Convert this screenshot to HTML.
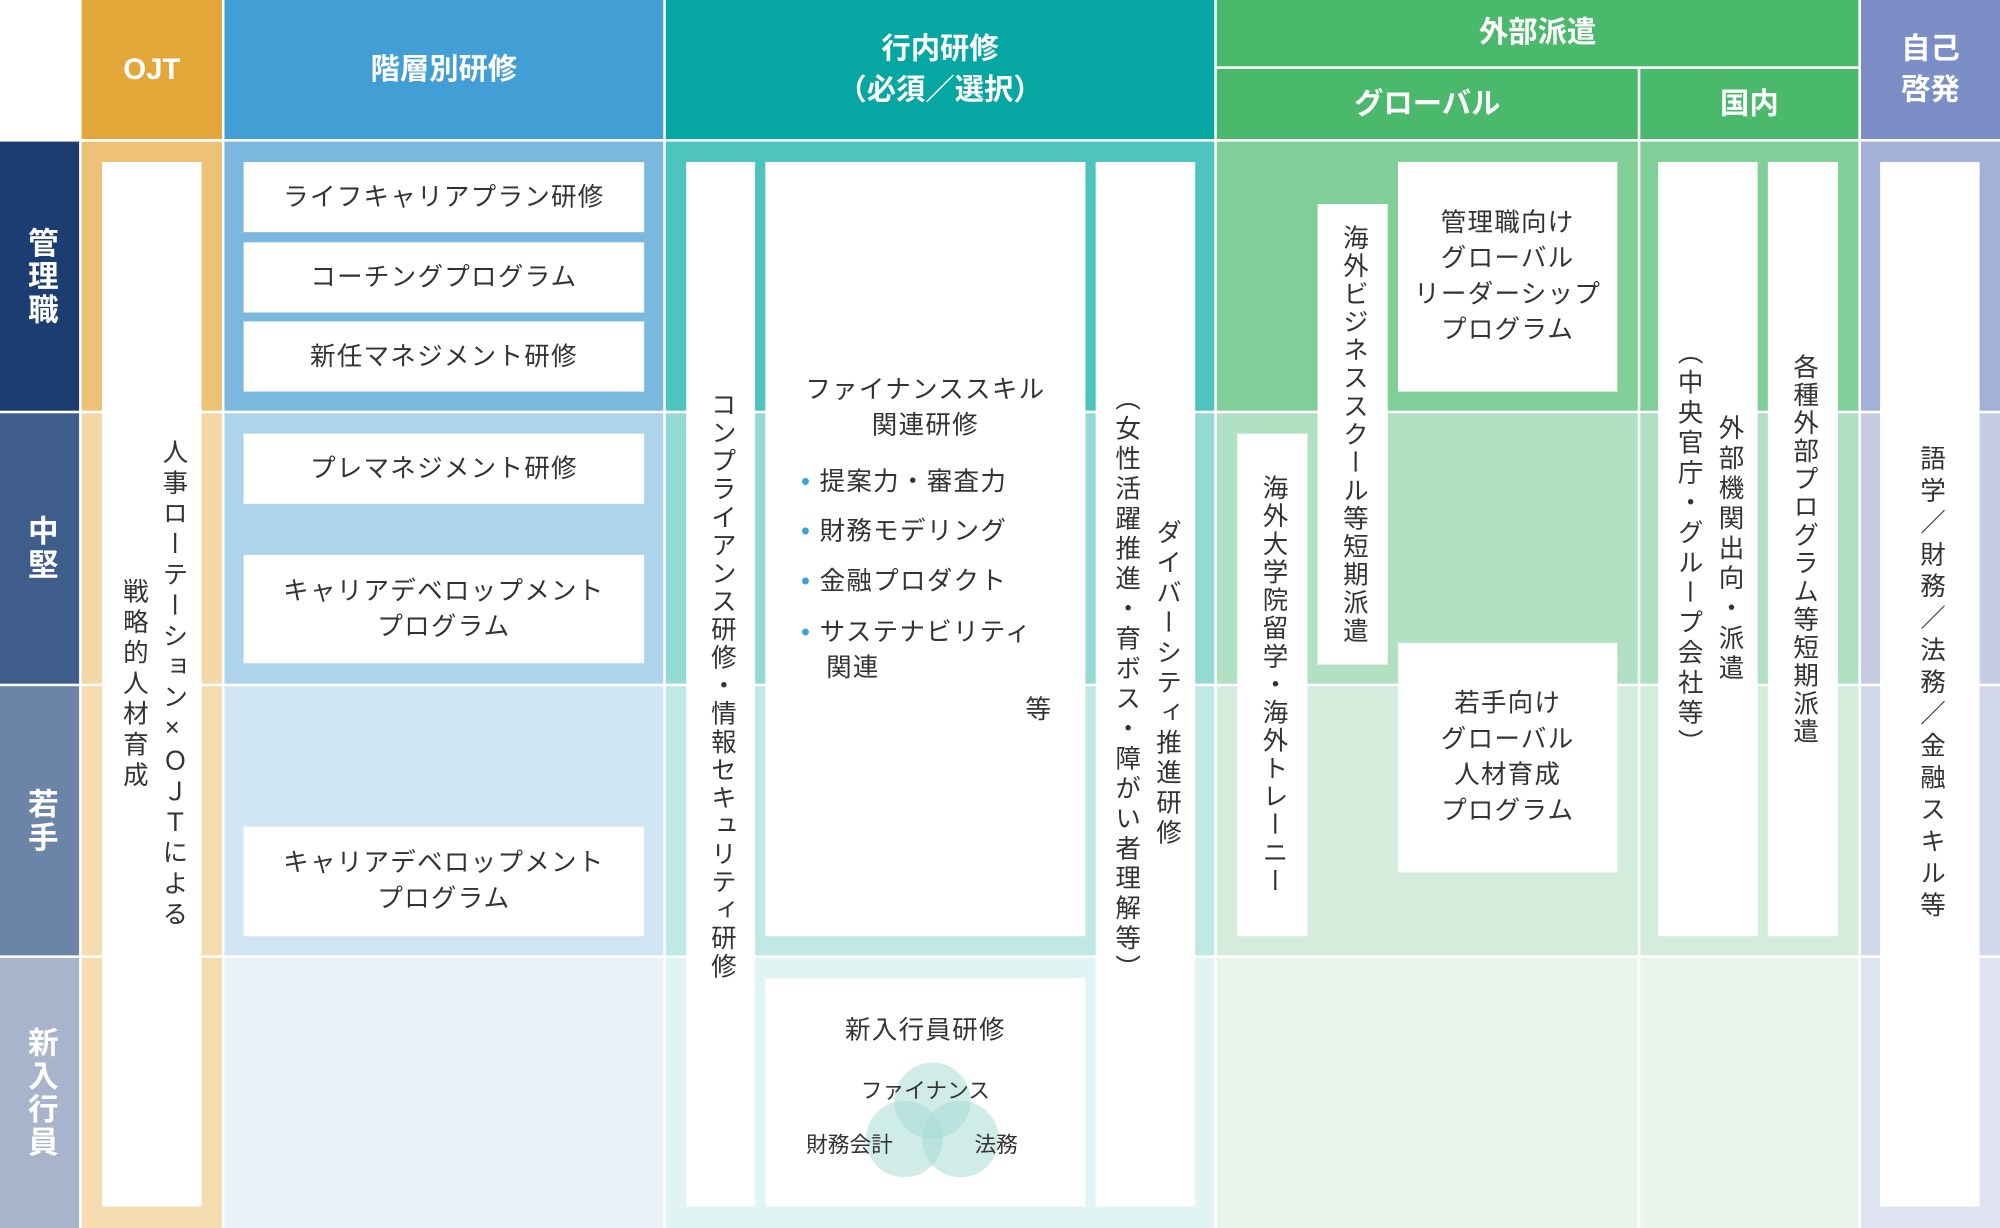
<!DOCTYPE html>
<html><head><meta charset="utf-8"><style>
html,body{margin:0;padding:0;background:#fff;}
#wrap{position:relative;width:1568px;height:963px;transform:scale(1.27551);transform-origin:0 0;font-family:"Liberation Sans","Noto Sans CJK JP",sans-serif;color:#333;}
.a{position:absolute;box-sizing:border-box;}
.h{color:#fff;font-weight:bold;font-size:23px;display:flex;align-items:center;justify-content:center;text-align:center;line-height:1.35;}
.w{background:#fff;display:flex;align-items:center;justify-content:center;text-align:center;font-size:20px;line-height:1.4;letter-spacing:1px;}
.v{writing-mode:vertical-rl;text-orientation:upright;font-size:20px;letter-spacing:2px;line-height:1.6;}
.rl{color:#fff;font-weight:bold;font-size:24px;writing-mode:vertical-rl;text-orientation:upright;display:flex;align-items:center;justify-content:center;letter-spacing:2px;}
</style></head><body><div id="wrap">
<!-- headers -->
<div class="a h" style="left:64px;top:0;width:110px;height:109px;background:#e3a638">OJT</div>
<div class="a h" style="left:176px;top:0;width:344px;height:109px;background:#429fd5">階層別研修</div>
<div class="a h" style="left:522px;top:0;width:430px;height:109px;background:#06a6a2">行内研修<br>（必須／選択）</div>
<div class="a h" style="left:954px;top:0;width:503px;height:52px;background:#4bb96c">外部派遣</div>
<div class="a h" style="left:954px;top:54px;width:330px;height:55px;background:#4bb96c">グローバル</div>
<div class="a h" style="left:1286px;top:54px;width:171px;height:55px;background:#4bb96c">国内</div>
<div class="a h" style="left:1459px;top:0;width:109px;height:109px;background:#7b8fc6">自己<br>啓発</div>
<!-- row labels -->
<div class="a rl" style="left:0;top:111px;width:62px;height:211px;background:#1b3d72">管理職</div>
<div class="a rl" style="left:0;top:324px;width:62px;height:212px;background:#3f5d8a">中堅</div>
<div class="a rl" style="left:0;top:538px;width:62px;height:211px;background:#6d84a9">若手</div>
<div class="a rl" style="left:0;top:751px;width:62px;height:212px;background:#a7b4cc">新入行員</div>
<!-- cell backgrounds -->
<div class="a" style="left:64px;top:111px;width:110px;height:211px;background:#edc277"></div>
<div class="a" style="left:64px;top:324px;width:110px;height:212px;background:#f3d9a8"></div>
<div class="a" style="left:64px;top:538px;width:110px;height:211px;background:#f4dcae"></div>
<div class="a" style="left:64px;top:751px;width:110px;height:212px;background:#f4dcae"></div>
<div class="a" style="left:176px;top:111px;width:344px;height:211px;background:#7ab8de"></div>
<div class="a" style="left:176px;top:324px;width:344px;height:212px;background:#aed4ec"></div>
<div class="a" style="left:176px;top:538px;width:344px;height:211px;background:#d0e6f4"></div>
<div class="a" style="left:176px;top:751px;width:344px;height:212px;background:#e7f2f9"></div>
<div class="a" style="left:522px;top:111px;width:430px;height:211px;background:#4ec4be"></div>
<div class="a" style="left:522px;top:324px;width:430px;height:212px;background:#95d9d5"></div>
<div class="a" style="left:522px;top:538px;width:430px;height:211px;background:#c0e8e5"></div>
<div class="a" style="left:522px;top:751px;width:430px;height:212px;background:#e0f4f3"></div>
<div class="a" style="left:954px;top:111px;width:330px;height:211px;background:#80cf98"></div>
<div class="a" style="left:954px;top:324px;width:330px;height:212px;background:#b2e0c2"></div>
<div class="a" style="left:954px;top:538px;width:330px;height:211px;background:#d4ecdc"></div>
<div class="a" style="left:954px;top:751px;width:330px;height:212px;background:#e9f5ec"></div>
<div class="a" style="left:1286px;top:111px;width:171px;height:211px;background:#80cf98"></div>
<div class="a" style="left:1286px;top:324px;width:171px;height:212px;background:#b2e0c2"></div>
<div class="a" style="left:1286px;top:538px;width:171px;height:211px;background:#d4ecdc"></div>
<div class="a" style="left:1286px;top:751px;width:171px;height:212px;background:#e9f5ec"></div>
<div class="a" style="left:1459px;top:111px;width:109px;height:211px;background:#a3b0d8"></div>
<div class="a" style="left:1459px;top:324px;width:109px;height:212px;background:#c5cce3"></div>
<div class="a" style="left:1459px;top:538px;width:109px;height:211px;background:#d2d8ea"></div>
<div class="a" style="left:1459px;top:751px;width:109px;height:212px;background:#dfe2f0"></div>
<!-- OJT -->
<div class="a w" style="left:80px;top:127px;width:78px;height:819px;"><div class="v" style="text-align:center;height:819px;line-height:1.55;letter-spacing:4px">人事ローテーション×ＯＪＴによる<br>戦略的人材育成</div></div>
<!-- 階層別 -->
<div class="a w" style="left:191px;top:127px;width:314px;height:55px">ライフキャリアプラン研修</div>
<div class="a w" style="left:191px;top:190px;width:314px;height:55px">コーチングプログラム</div>
<div class="a w" style="left:191px;top:252px;width:314px;height:55px">新任マネジメント研修</div>
<div class="a w" style="left:191px;top:340px;width:314px;height:55px">プレマネジメント研修</div>
<div class="a w" style="left:191px;top:435px;width:314px;height:85px">キャリアデベロップメント<br>プログラム</div>
<div class="a w" style="left:191px;top:648px;width:314px;height:86px">キャリアデベロップメント<br>プログラム</div>
<!-- 行内 -->
<div class="a w" style="left:538px;top:127px;width:54px;height:819px;align-items:flex-start"><div class="v" style="padding-top:180px">コンプライアンス研修・情報セキュリティ研修</div></div>
<div class="a" style="left:600px;top:127px;width:251px;height:607px;background:#fff;font-size:20px;line-height:1.4;letter-spacing:1px;">
 <div style="position:absolute;top:165px;width:100%;text-align:center">ファイナンススキル<br>関連研修</div>
 <div style="position:absolute;top:232px;left:28px;line-height:39px">
  <div><span style="color:#3ba4d6">•</span> 提案力・審査力</div>
  <div><span style="color:#3ba4d6">•</span> 財務モデリング</div>
  <div><span style="color:#3ba4d6">•</span> 金融プロダクト</div>
  <div style="line-height:28px;margin-top:6px"><span style="color:#3ba4d6">•</span> サステナビリティ<br>&nbsp;&nbsp;&nbsp;関連</div>
 </div>
 <div style="position:absolute;top:416px;right:26px">等</div>
</div>
<div class="a w" style="left:859px;top:127px;width:78px;height:819px;"><div class="v" style="text-align:center;height:819px;line-height:1.6;letter-spacing:3.5px">ダイバーシティ推進研修<br>（女性活躍推進・育ボス・障がい者理解等）</div></div>
<div class="a" style="left:600px;top:767px;width:251px;height:179px;background:#fff;">
 <svg width="251" height="179" style="position:absolute;left:0;top:0">
  <circle cx="131" cy="96" r="30" fill="#a8dcd3" opacity="0.55"/>
  <circle cx="109" cy="126" r="30" fill="#a8dcd3" opacity="0.55"/>
  <circle cx="153" cy="126" r="30" fill="#a8dcd3" opacity="0.55"/>
 </svg>
 <div style="position:absolute;top:24px;width:100%;text-align:center;font-size:20px;letter-spacing:1px">新入行員研修</div>
 <div style="position:absolute;top:74px;width:100%;text-align:center;font-size:17px">ファイナンス</div>
 <div style="position:absolute;top:116px;left:32px;font-size:17px">財務会計</div>
 <div style="position:absolute;top:116px;left:164px;font-size:17px">法務</div>
</div>
<!-- global -->
<div class="a w" style="left:1033px;top:160px;width:55px;height:361px"><div class="v">海外ビジネススクール等短期派遣</div></div>
<div class="a w" style="left:1096px;top:127px;width:172px;height:180px;line-height:1.4">管理職向け<br>グローバル<br>リーダーシップ<br>プログラム</div>
<div class="a w" style="left:970px;top:340px;width:55px;height:394px"><div class="v">海外大学院留学・海外トレーニー</div></div>
<div class="a w" style="left:1096px;top:504px;width:172px;height:180px;line-height:1.4">若手向け<br>グローバル<br>人材育成<br>プログラム</div>
<!-- 国内 -->
<div class="a w" style="left:1300px;top:127px;width:78px;height:607px;"><div class="v" style="text-align:center;height:607px;line-height:1.6;letter-spacing:3.5px">外部機関出向・派遣<br>（中央官庁・グループ会社等）</div></div>
<div class="a w" style="left:1386px;top:127px;width:55px;height:607px"><div class="v">各種外部プログラム等短期派遣</div></div>
<!-- 自己 -->
<div class="a w" style="left:1474px;top:127px;width:78px;height:819px"><div class="v" style="letter-spacing:5px">語学／財務／法務／金融スキル等</div></div>
</div></body></html>
